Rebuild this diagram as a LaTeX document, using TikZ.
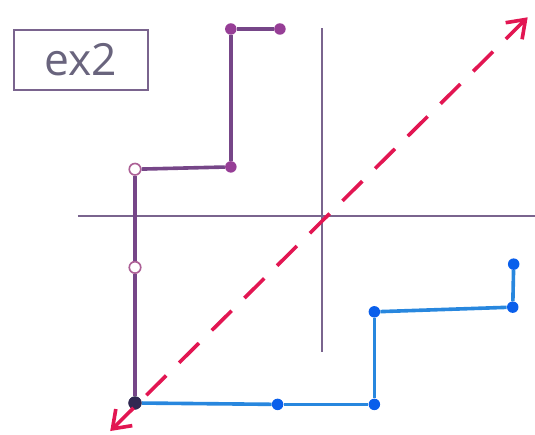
\documentclass[tikz,border=0pt]{standalone}
\usepackage{fontspec}
\setsansfont{Open Sans}
\usetikzlibrary{arrows.meta}

\definecolor{pathpurple}{RGB}{118,70,136}
\definecolor{dotpurple}{RGB}{150,62,150}
\definecolor{ringpink}{RGB}{172,96,150}
\definecolor{dotdark}{RGB}{48,40,82}
\definecolor{axisgray}{RGB}{122,100,142}
\definecolor{pathblue}{RGB}{40,135,222}
\definecolor{dotblue}{RGB}{10,95,235}
\definecolor{dashred}{RGB}{226,22,82}
\definecolor{labelgray}{RGB}{105,100,125}

\begin{document}
\begin{tikzpicture}[
    dot/.style   = {circle, inner sep = 0pt, minimum size = 7pt},
    pdot/.style  = {dot, fill = dotpurple},
    ring/.style  = {dot, draw = ringpink, fill = white, line width = 1pt},
    bdot/.style  = {dot, fill = dotblue},
    odot/.style  = {dot, fill = dotdark, minimum size = 8pt},
    ppath/.style = {pathpurple, line width = 2.2pt},
    bpath/.style = {pathblue, line width = 2.2pt},
    axis/.style  = {axisgray, line width = 1.2pt},
    diag/.style  = {{Straight Barb[length=3.5mm, width=5mm]}-{Straight Barb[length=3.5mm, width=5mm]},
                    dashred, line width = 2.2pt, dash pattern = on 17pt off 11pt},
  ]
    \useasboundingbox (-6.888,-4.684) rectangle (4.556,4.620);

    %% -- title box --
    \node[draw = axisgray, line width = 1.1pt, text = labelgray,
          minimum width = 2.87cm, minimum height = 1.28cm,
          font = \sffamily\fontsize{27}{30}\selectfont] (T) at (-5.155,3.34) {ex2};

    %% -- axes --
    \coordinate (XL) at (-5.22,0);
    \coordinate (XR) at (4.556,0);
    \coordinate (YT) at (0,4.02);
    \coordinate (YB) at (0,-2.91);
    \draw[axis] (XL) -- (XR);
    \draw[axis] (YT) -- (YB);

    %% -- purple path --
    \node[odot] (O)  at (-4,-4) {};
    \node[ring] (P1) at (-4,-1.1) {};
    \node[ring] (P2) at (-4,1) {};
    \node[pdot] (P3) at (-1.95,1.05) {};
    \node[pdot] (P4) at (-1.95,4) {};
    \node[pdot] (P5) at (-0.9,4) {};

    \draw[ppath] (O) -- (P1);
    \draw[ppath] (P1) -- (P2);
    \draw[ppath] (P2) -- (P3);
    \draw[ppath] (P3) -- (P4);
    \draw[ppath] (P4) -- (P5);

    %% -- blue path --
    \node[bdot] (B1) at (-0.95,-4.03) {};
    \node[bdot] (B2) at (1.12,-4.03) {};
    \node[bdot] (B3) at (1.12,-2.05) {};
    \node[bdot] (B4) at (4.08,-1.95) {};
    \node[bdot] (B5) at (4.1,-1.03) {};

    \draw[bpath] (O) -- (B1);
    \draw[bpath] (B1) -- (B2);
    \draw[bpath] (B2) -- (B3);
    \draw[bpath] (B3) -- (B4);
    \draw[bpath] (B4) -- (B5);
    \node[odot] at (O) {};

    %% -- diagonal --
    \coordinate (DL) at (-4.53,-4.6);
    \coordinate (DR) at (4.4,4.25);
    \draw[diag] (DL) -- (DR);
\end{tikzpicture}
\end{document}
